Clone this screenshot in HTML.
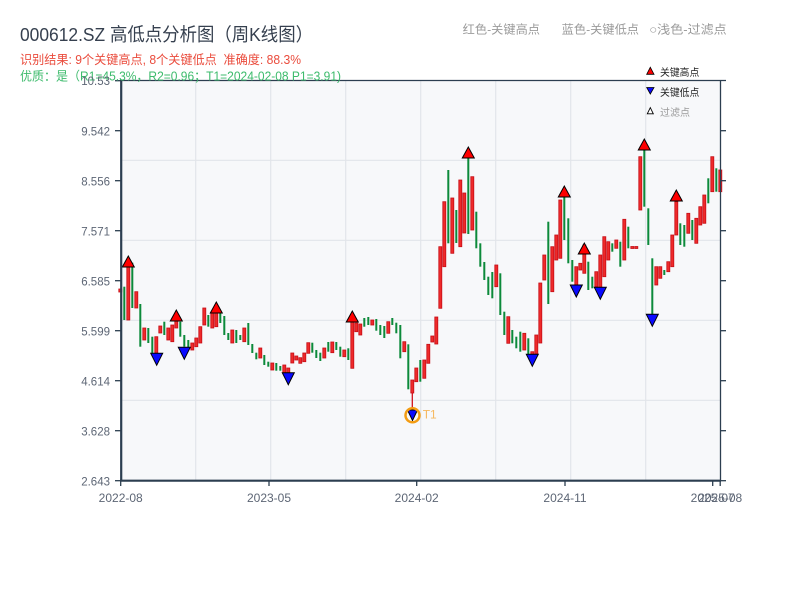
<!DOCTYPE html>
<html>
<head>
<meta charset="utf-8">
<style>
html,body{margin:0;padding:0;background:#ffffff;}
svg{display:block;}
text{font-family:"Liberation Sans","Noto Sans CJK SC",sans-serif;}
</style>
</head>
<body>
<svg width="800" height="600" viewBox="0 0 800 600" xmlns="http://www.w3.org/2000/svg">
<rect x="0" y="0" width="800" height="600" fill="#ffffff"/>
<rect x="121" y="80" width="599.5" height="400.5" fill="#f7f8fa"/>
<g stroke="#e2e5ea" stroke-width="1.2">
<line x1="195.7" y1="80" x2="195.7" y2="480"/>
<line x1="270.7" y1="80" x2="270.7" y2="480"/>
<line x1="345.7" y1="80" x2="345.7" y2="480"/>
<line x1="420.7" y1="80" x2="420.7" y2="480"/>
<line x1="495.7" y1="80" x2="495.7" y2="480"/>
<line x1="570.7" y1="80" x2="570.7" y2="480"/>
<line x1="645.7" y1="80" x2="645.7" y2="480"/>
<line x1="121" y1="160.3" x2="720" y2="160.3"/>
<line x1="121" y1="240.3" x2="720" y2="240.3"/>
<line x1="121" y1="320.3" x2="720" y2="320.3"/>
<line x1="121" y1="400.3" x2="720" y2="400.3"/>
</g>
<g fill="#0c8a3a">
<rect x="123.3" y="286.7" width="2" height="33.3"/>
<rect x="131.3" y="262.7" width="2" height="45.3"/>
<rect x="139.3" y="304" width="2" height="42.7"/>
<rect x="147.3" y="328" width="2" height="15"/>
<rect x="151.3" y="336.7" width="2" height="16.3"/>
<rect x="163.3" y="321.7" width="2" height="13.3"/>
<rect x="179.3" y="321.7" width="2" height="15"/>
<rect x="183.3" y="335" width="2" height="11.7"/>
<rect x="187.3" y="340" width="2" height="8"/>
<rect x="207.3" y="315" width="2" height="11.7"/>
<rect x="219.3" y="313" width="2" height="10"/>
<rect x="223.3" y="316" width="2" height="19"/>
<rect x="227.3" y="333" width="2" height="7"/>
<rect x="235.3" y="330" width="2" height="13"/>
<rect x="239.3" y="335" width="2" height="5"/>
<rect x="247.3" y="323" width="2" height="22"/>
<rect x="251.3" y="344" width="2" height="9"/>
<rect x="255.3" y="352.7" width="2" height="6.6"/>
<rect x="263.3" y="355" width="2" height="10"/>
<rect x="267.3" y="361.7" width="2" height="5"/>
<rect x="275.3" y="363" width="2" height="7.7"/>
<rect x="279.3" y="366" width="2" height="4.7"/>
<rect x="311.3" y="342.7" width="2" height="10"/>
<rect x="315.3" y="350" width="2" height="8"/>
<rect x="319.3" y="352.7" width="2" height="8.3"/>
<rect x="327.3" y="342" width="2" height="9.7"/>
<rect x="335.3" y="342" width="2" height="8"/>
<rect x="339.3" y="346.7" width="2" height="10"/>
<rect x="347.3" y="348.3" width="2" height="11.7"/>
<rect x="363.3" y="318" width="2" height="8.7"/>
<rect x="367.3" y="317" width="2" height="8"/>
<rect x="375.3" y="319" width="2" height="11.7"/>
<rect x="379.3" y="325" width="2" height="10"/>
<rect x="383.3" y="326" width="2" height="12"/>
<rect x="391.3" y="318" width="2" height="7"/>
<rect x="395.3" y="322.7" width="2" height="10.6"/>
<rect x="399.3" y="325" width="2" height="33.3"/>
<rect x="407.3" y="344.3" width="2" height="45"/>
<rect x="419.3" y="360" width="2" height="21.7"/>
<rect x="447.3" y="170" width="2" height="73.3"/>
<rect x="455.3" y="210" width="2" height="33"/>
<rect x="467.3" y="158" width="2" height="76"/>
<rect x="475.3" y="211.7" width="2" height="36.6"/>
<rect x="479.3" y="243.3" width="2" height="23.4"/>
<rect x="483.3" y="262" width="2" height="18"/>
<rect x="487.3" y="276.7" width="2" height="18.3"/>
<rect x="491.3" y="272" width="2" height="26.3"/>
<rect x="499.3" y="273.3" width="2" height="41.7"/>
<rect x="503.3" y="311.7" width="2" height="23.3"/>
<rect x="511.3" y="330" width="2" height="13.3"/>
<rect x="515.3" y="336.7" width="2" height="11.6"/>
<rect x="519.3" y="331.7" width="2" height="20"/>
<rect x="527.3" y="338.3" width="2" height="16.7"/>
<rect x="547.3" y="221.7" width="2" height="82.3"/>
<rect x="563.3" y="196.7" width="2" height="43.3"/>
<rect x="567.3" y="218.3" width="2" height="45"/>
<rect x="571.3" y="260" width="2" height="21.7"/>
<rect x="587.3" y="261.7" width="2" height="28.3"/>
<rect x="591.3" y="276.7" width="2" height="11.6"/>
<rect x="611.3" y="243.3" width="2" height="8.4"/>
<rect x="619.3" y="241.7" width="2" height="25"/>
<rect x="627.3" y="226.7" width="2" height="21.6"/>
<rect x="643.3" y="150" width="2" height="56.7"/>
<rect x="647.3" y="208.3" width="2" height="36.7"/>
<rect x="651.3" y="258.3" width="2" height="58.4"/>
<rect x="663.3" y="270" width="2" height="5"/>
<rect x="679.3" y="223.3" width="2" height="21.7"/>
<rect x="683.3" y="225" width="2" height="21.7"/>
<rect x="691.3" y="220" width="2" height="20"/>
<rect x="707.3" y="178.3" width="2" height="25"/>
<rect x="715.3" y="168.3" width="2" height="23.4"/>
</g>
<line x1="412.3" y1="392" x2="412.3" y2="410" stroke="#d0101a" stroke-width="1.3"/>
<g fill="#ee2a2a" stroke="#c60d16" stroke-width="0.8">
<rect x="118.8" y="289" width="3" height="3"/>
<rect x="126.8" y="266.7" width="3" height="53.3"/>
<rect x="134.8" y="291.7" width="3" height="16.3"/>
<rect x="142.8" y="328" width="3" height="12"/>
<rect x="154.8" y="336.7" width="3" height="16.3"/>
<rect x="158.8" y="326" width="3" height="7"/>
<rect x="166.8" y="328" width="3" height="12"/>
<rect x="170.8" y="325" width="3" height="16.7"/>
<rect x="174.8" y="320" width="3" height="8"/>
<rect x="190.8" y="343" width="3" height="7"/>
<rect x="194.8" y="338" width="3" height="8.7"/>
<rect x="198.8" y="326.7" width="3" height="16.3"/>
<rect x="202.8" y="308" width="3" height="17"/>
<rect x="210.8" y="313" width="3" height="15"/>
<rect x="214.8" y="311.7" width="3" height="15"/>
<rect x="230.8" y="330" width="3" height="13"/>
<rect x="242.8" y="328" width="3" height="13.7"/>
<rect x="258.8" y="348" width="3" height="10"/>
<rect x="270.8" y="363" width="3" height="7"/>
<rect x="282.8" y="365" width="3" height="8"/>
<rect x="286.8" y="368" width="3" height="5"/>
<rect x="290.8" y="353" width="3" height="10"/>
<rect x="294.8" y="356" width="3" height="4"/>
<rect x="298.8" y="357.7" width="3" height="5.6"/>
<rect x="302.8" y="353" width="3" height="8.7"/>
<rect x="306.8" y="342.7" width="3" height="10.6"/>
<rect x="322.8" y="348" width="3" height="10"/>
<rect x="330.8" y="342" width="3" height="10.7"/>
<rect x="342.8" y="350" width="3" height="6.7"/>
<rect x="350.8" y="320.7" width="3" height="47.6"/>
<rect x="354.8" y="323" width="3" height="8.7"/>
<rect x="358.8" y="324" width="3" height="11"/>
<rect x="370.8" y="320" width="3" height="5"/>
<rect x="386.8" y="321.7" width="3" height="11.6"/>
<rect x="402.8" y="341.7" width="3" height="10"/>
<rect x="410.8" y="380" width="3" height="13"/>
<rect x="414.8" y="368" width="3" height="13.7"/>
<rect x="422.8" y="360" width="3" height="18.3"/>
<rect x="426.8" y="344.3" width="3" height="19"/>
<rect x="430.8" y="336" width="3" height="6"/>
<rect x="434.8" y="317" width="3" height="27"/>
<rect x="438.8" y="246.7" width="3" height="61.6"/>
<rect x="442.8" y="201.7" width="3" height="65"/>
<rect x="450.8" y="198" width="3" height="55.3"/>
<rect x="458.8" y="180" width="3" height="66.7"/>
<rect x="462.8" y="193" width="3" height="40"/>
<rect x="470.8" y="176.7" width="3" height="53.3"/>
<rect x="494.8" y="265" width="3" height="21.7"/>
<rect x="506.8" y="316.7" width="3" height="26.6"/>
<rect x="522.8" y="333.3" width="3" height="16.7"/>
<rect x="530.8" y="351.7" width="3" height="5"/>
<rect x="534.8" y="335" width="3" height="19"/>
<rect x="538.8" y="283" width="3" height="60"/>
<rect x="542.8" y="255" width="3" height="25"/>
<rect x="550.8" y="246.7" width="3" height="45"/>
<rect x="554.8" y="235" width="3" height="25"/>
<rect x="558.8" y="200" width="3" height="58.3"/>
<rect x="574.8" y="266.7" width="3" height="18.3"/>
<rect x="578.8" y="263.3" width="3" height="6.7"/>
<rect x="582.8" y="245" width="3" height="28.3"/>
<rect x="594.8" y="271.7" width="3" height="15"/>
<rect x="598.8" y="255" width="3" height="35"/>
<rect x="602.8" y="236.7" width="3" height="40"/>
<rect x="606.8" y="241.7" width="3" height="18.3"/>
<rect x="614.8" y="240" width="3" height="8.3"/>
<rect x="622.8" y="219.3" width="3" height="40.7"/>
<rect x="630.8" y="246.5" width="3" height="2"/>
<rect x="634.8" y="246.5" width="3" height="2"/>
<rect x="638.8" y="156.7" width="3" height="53.3"/>
<rect x="654.8" y="266.7" width="3" height="18.3"/>
<rect x="658.8" y="266.7" width="3" height="11.6"/>
<rect x="666.8" y="261.7" width="3" height="10"/>
<rect x="670.8" y="235" width="3" height="31.7"/>
<rect x="674.8" y="201.7" width="3" height="33.3"/>
<rect x="686.8" y="213.3" width="3" height="20"/>
<rect x="694.8" y="218.3" width="3" height="25"/>
<rect x="698.8" y="206.7" width="3" height="18.3"/>
<rect x="702.8" y="195" width="3" height="28.3"/>
<rect x="710.8" y="156.7" width="3" height="35"/>
<rect x="718.8" y="170" width="3" height="21.7"/>
</g>
<g fill="#ff0000" stroke="#000000" stroke-width="1">
<polygon points="122.3,267 134.3,267 128.3,256"/>
<polygon points="170.3,321 182.3,321 176.3,310"/>
<polygon points="210.3,313 222.3,313 216.3,302"/>
<polygon points="346.3,322 358.3,322 352.3,311"/>
<polygon points="462.3,158 474.3,158 468.3,147"/>
<polygon points="558.3,197 570.3,197 564.3,186"/>
<polygon points="578.3,254 590.3,254 584.3,243"/>
<polygon points="638.3,150 650.3,150 644.3,139"/>
<polygon points="670.3,201 682.3,201 676.3,190"/>
</g>
<g fill="#0a0aff" stroke="#000000" stroke-width="1">
<polygon points="150.7,353.3 162.7,353.3 156.7,365.3"/>
<polygon points="178.3,347.3 190.3,347.3 184.3,359.3"/>
<polygon points="282.3,372.7 294.3,372.7 288.3,384.7"/>
<polygon points="526.3,354.3 538.3,354.3 532.3,366.3"/>
<polygon points="570.3,285 582.3,285 576.3,297"/>
<polygon points="594.3,287.3 606.3,287.3 600.3,299.3"/>
<polygon points="646.3,314.3 658.3,314.3 652.3,326.3"/>
<polygon points="407.5,410 417.5,410 412.5,420.5"/>
</g>
<circle cx="412.5" cy="415.3" r="7" fill="none" stroke="#f39c12" stroke-width="2.5"/>
<text x="422.7" y="418.5" font-size="12" fill="#f6b960">T1</text>
<g stroke="#2c3e50" fill="none">
<line x1="121" y1="80.5" x2="726" y2="80.5" stroke-width="1.3"/>
<line x1="720.5" y1="80" x2="720.5" y2="481" stroke-width="1.3"/>
<line x1="121.2" y1="79.5" x2="121.2" y2="481.5" stroke-width="2.2"/>
<line x1="120" y1="480.7" x2="721" y2="480.7" stroke-width="2.2"/>
<line x1="115" y1="80.7" x2="121" y2="80.7" stroke-width="1.3"/>
<line x1="115" y1="130.7" x2="121" y2="130.7" stroke-width="1.3"/>
<line x1="115" y1="180.7" x2="121" y2="180.7" stroke-width="1.3"/>
<line x1="115" y1="230.7" x2="121" y2="230.7" stroke-width="1.3"/>
<line x1="115" y1="280.7" x2="121" y2="280.7" stroke-width="1.3"/>
<line x1="115" y1="330.7" x2="121" y2="330.7" stroke-width="1.3"/>
<line x1="115" y1="380.7" x2="121" y2="380.7" stroke-width="1.3"/>
<line x1="115" y1="430.7" x2="121" y2="430.7" stroke-width="1.3"/>
<line x1="115" y1="480.7" x2="121" y2="480.7" stroke-width="1.3"/>
<line x1="720" y1="130.7" x2="726" y2="130.7" stroke-width="1.3"/>
<line x1="720" y1="180.7" x2="726" y2="180.7" stroke-width="1.3"/>
<line x1="720" y1="230.7" x2="726" y2="230.7" stroke-width="1.3"/>
<line x1="720" y1="280.7" x2="726" y2="280.7" stroke-width="1.3"/>
<line x1="720" y1="330.7" x2="726" y2="330.7" stroke-width="1.3"/>
<line x1="720" y1="380.7" x2="726" y2="380.7" stroke-width="1.3"/>
<line x1="720" y1="430.7" x2="726" y2="430.7" stroke-width="1.3"/>
<line x1="720" y1="480.7" x2="726" y2="480.7" stroke-width="1.3"/>
<line x1="120.7" y1="481" x2="120.7" y2="486" stroke-width="1.3"/>
<line x1="269" y1="481" x2="269" y2="486" stroke-width="1.3"/>
<line x1="416.7" y1="481" x2="416.7" y2="486" stroke-width="1.3"/>
<line x1="565" y1="481" x2="565" y2="486" stroke-width="1.3"/>
<line x1="712.7" y1="481" x2="712.7" y2="486" stroke-width="1.3"/>
<line x1="720.2" y1="481" x2="720.2" y2="486" stroke-width="1.3"/>
</g>
<text x="20" y="41" font-size="18.5" fill="#36404f" textLength="293" lengthAdjust="spacingAndGlyphs">000612.SZ 高低点分析图（周K线图）</text>
<text x="20" y="64" font-size="12.5" fill="#ea4b3c" textLength="281" lengthAdjust="spacingAndGlyphs" style="white-space:pre">识别结果: 9个关键高点, 8个关键低点  准确度: 88.3%</text>
<text x="20" y="80.5" font-size="12.5" fill="#3dbb6c" textLength="321" lengthAdjust="spacingAndGlyphs">优质：是（R1=45.3%，R2=0.96；T1=2024-02-08 P1=3.91)</text>
<g font-size="12" fill="#9a9a9a">
<text x="462.7" y="33.5" textLength="77.3" lengthAdjust="spacingAndGlyphs">红色-关键高点</text>
<text x="561.7" y="33.5" textLength="77.3" lengthAdjust="spacingAndGlyphs">蓝色-关键低点</text>
<text x="649.3" y="33.5" textLength="77.4" lengthAdjust="spacingAndGlyphs">○浅色-过滤点</text>
</g>
<polygon points="646.7,74.3 654,74.3 650.3,67.3" fill="#ff0000" stroke="#000" stroke-width="0.8"/>
<text x="660" y="76" font-size="10" fill="#222" textLength="39.3" lengthAdjust="spacingAndGlyphs">关键高点</text>
<polygon points="646.7,87.5 654,87.5 650.3,94" fill="#0a0aff" stroke="#000" stroke-width="0.8"/>
<text x="660" y="96" font-size="10" fill="#222" textLength="39.3" lengthAdjust="spacingAndGlyphs">关键低点</text>
<polygon points="647.3,113.8 653.3,113.8 650.3,107.6" fill="#ffffff" stroke="#000" stroke-width="0.9"/>
<text x="660" y="116" font-size="10" fill="#9a9a9a" textLength="30" lengthAdjust="spacingAndGlyphs">过滤点</text>
<g font-size="11.5" fill="#5d6675" text-anchor="end">
<text x="110" y="85">10.53</text>
<text x="110" y="135.5">9.542</text>
<text x="110" y="185.5">8.556</text>
<text x="110" y="235.5">7.571</text>
<text x="110" y="285.5">6.585</text>
<text x="110" y="335.5">5.599</text>
<text x="110" y="385.5">4.614</text>
<text x="110" y="435.5">3.628</text>
<text x="110" y="485.5">2.643</text>
</g>
<g font-size="12" fill="#5d6675" text-anchor="middle">
<text x="120.7" y="502">2022-08</text>
<text x="269" y="502">2023-05</text>
<text x="416.7" y="502">2024-02</text>
<text x="565" y="502">2024-11</text>
<text x="712.7" y="502">2025-07</text>
<text x="720.2" y="502">2025-08</text>
</g>
</svg>
</body>
</html>
